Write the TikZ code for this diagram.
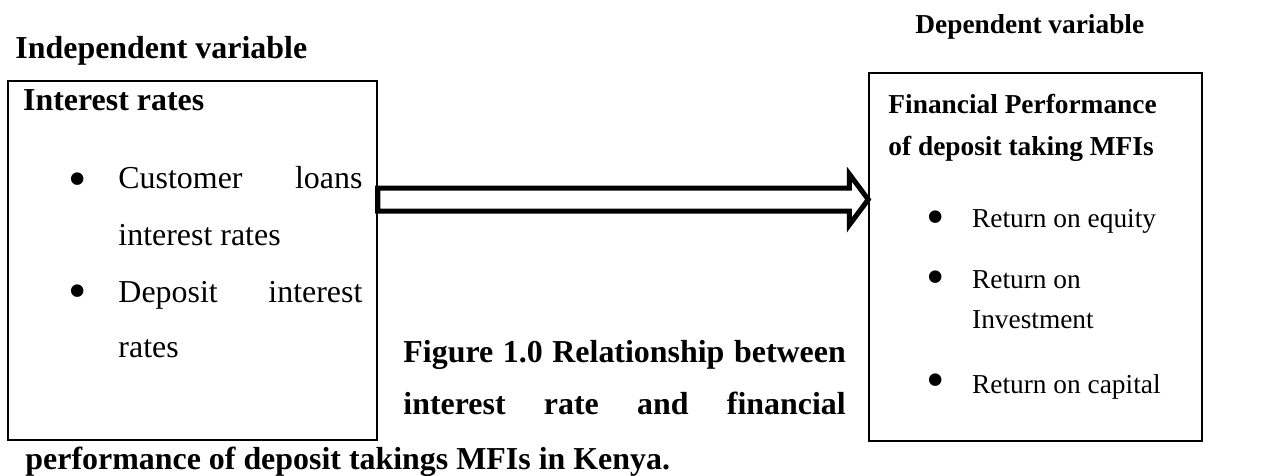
\documentclass[tikz,border=0pt]{standalone}
\usepackage{fontspec}
\setmainfont{Liberation Serif}
\usepackage{tikz}
\usetikzlibrary{fit, calc}
\newcommand{\spreadline}[2]{\makebox[#1][s]{#2}}
\tikzset{
  big/.style={font=\fontsize{14}{16}\selectfont, anchor=base west, inner sep=0pt},
  small/.style={font=\fontsize{12}{14}\selectfont, anchor=base west, inner sep=0pt},
  bigdot/.style={font=\fontsize{23}{25}\selectfont, inner sep=0pt},
  varbox/.style={draw, line width=0.65pt, inner sep=0pt},
  hollow/.style={draw, line width=2.2pt, line join=miter}
}
\begin{document}
\begin{tikzpicture}[x=0.4386pt, y=-0.4386pt]
\useasboundingbox (0,0) rectangle (1279,475);
\node[big, font=\fontsize{14}{16}\selectfont\bfseries] (indep) at (15,58) {Independent variable};
\node[small, font=\fontsize{12}{14}\selectfont\bfseries] (dep) at (915,33) {Dependent variable};
\node[varbox, fit={(8,81) (377,440)}] (ibox) {};
\node[varbox, fit={(869,73) (1202,441)}] (dbox) {};
\path
(22.7,110) node[big, font=\fontsize{14}{16}\selectfont\bfseries] (irates) {Interest rates};
\path
(77.7,185) node[bigdot] (b1) {\textbullet}
(118,188) node[big] (loans) {\spreadline{107pt}{Customer loans}}
(118,245) node[big] (loans2) {interest rates}
(77.7,297) node[bigdot] (b2) {\textbullet}
(118,302) node[big] (depo) {\spreadline{107pt}{Deposit interest}}
(118,357) node[big] (depo2) {rates};
\path
(888,113) node[small, font=\fontsize{12}{14}\selectfont\bfseries] (fp) {Financial Performance}
(888,155) node[small, font=\fontsize{12}{14}\selectfont\bfseries] (fp2) {of deposit taking MFIs};
\path
(936,223) node[bigdot] (r1) {\textbullet}
(971.7,227) node[small] (roe) {Return on equity}
(936,283) node[bigdot] (r2) {\textbullet}
(971.7,288) node[small] (roi) {Return on}
(971.7,328) node[small] (roi2) {Investment}
(936,386) node[bigdot] (r3) {\textbullet}
(971.7,393) node[small] (roc) {Return on capital};
\path
(403,362) node[big, font=\fontsize{14}{16}\selectfont\bfseries] (cap1) {\spreadline{194pt}{Figure 1.0 Relationship between}}
(403,414) node[big, font=\fontsize{14}{16}\selectfont\bfseries] (cap2) {\spreadline{194pt}{interest rate and financial}}
(25,469) node[big, font=\fontsize{14}{16}\selectfont\bfseries] (cap3) {performance of deposit takings MFIs in Kenya.};
\coordinate (tail) at (ibox.east |- 0,199.5);
\coordinate (tip) at (dbox.west |- tail);
\draw[hollow] ($(tail)+(0,-11.5)$) -- ($(tip)+(-19,-11.5)$) -- ($(tip)+(-19,-25.5)$) -- (tip)
  -- ($(tip)+(-19,25.5)$) -- ($(tip)+(-19,11.5)$) -- ($(tail)+(0,11.5)$) -- cycle;
\end{tikzpicture}
\end{document}
